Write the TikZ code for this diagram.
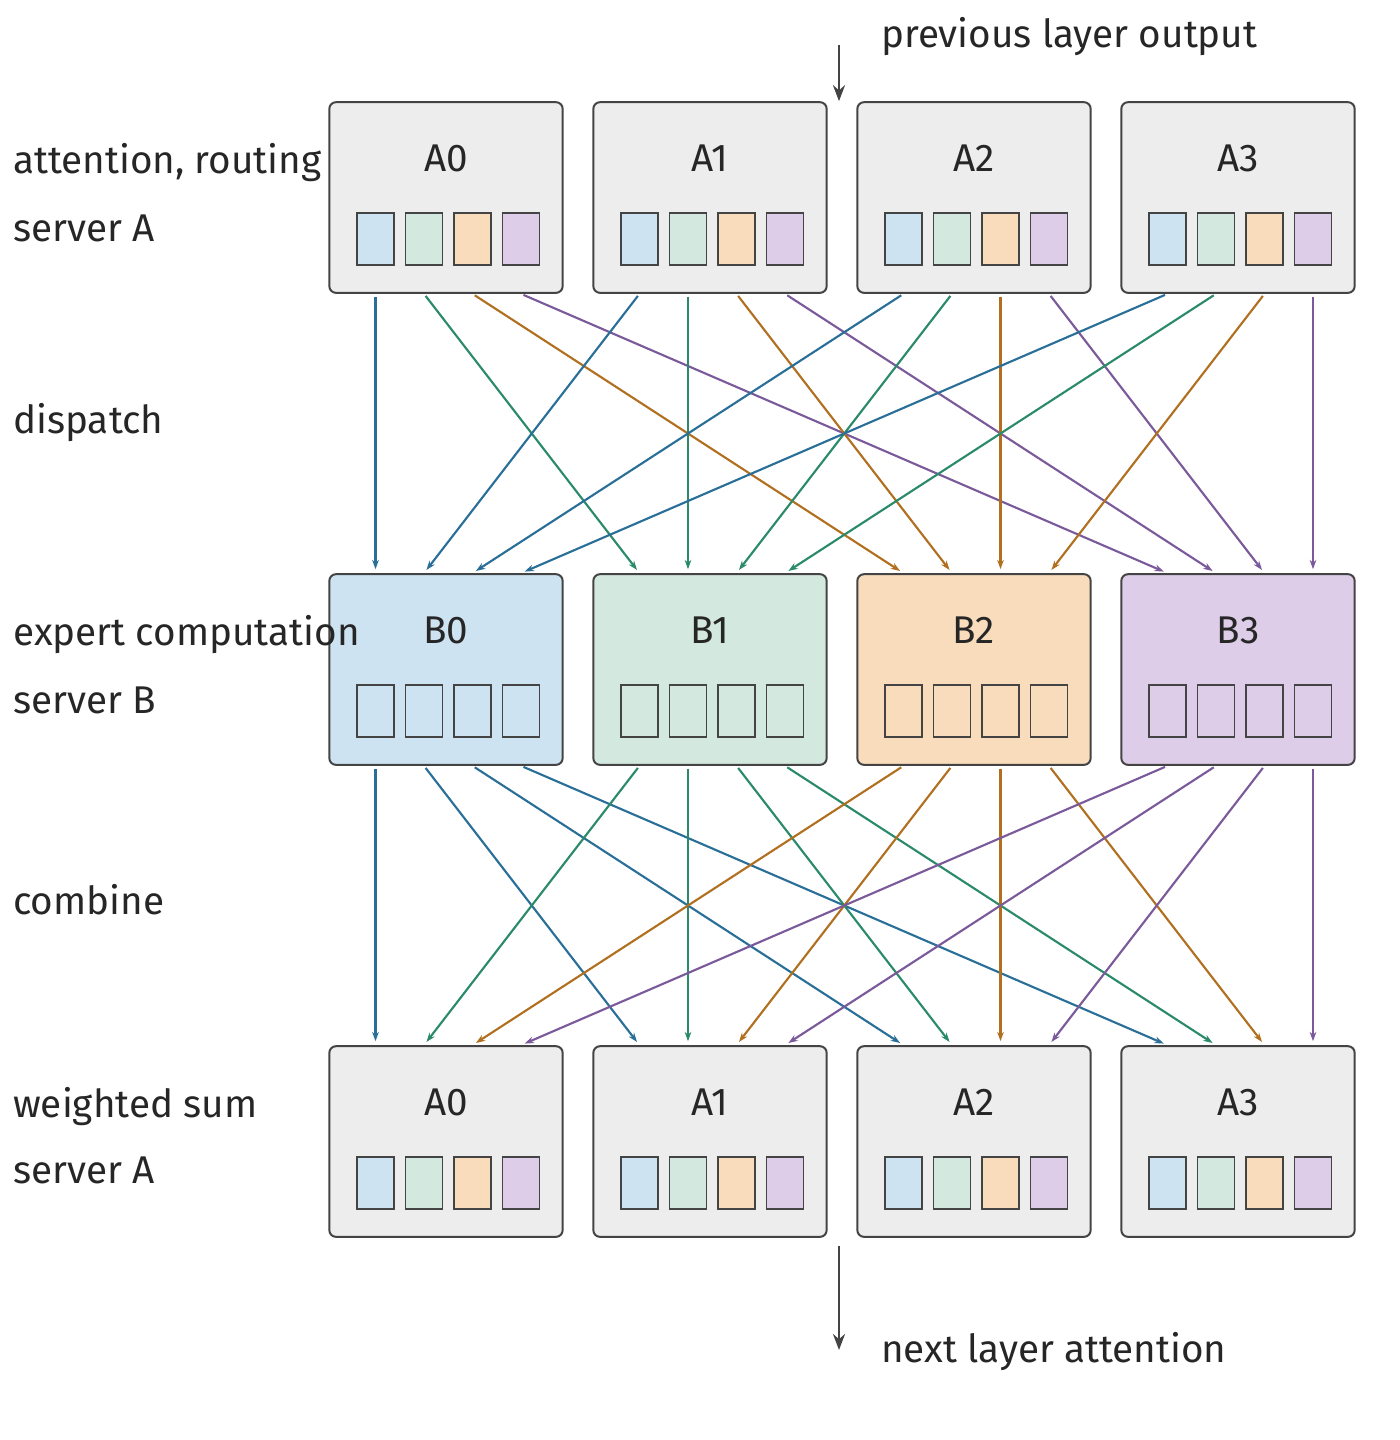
\documentclass[tikz,border=0pt]{standalone}
\usepackage{fontspec}
\setmainfont{Fira Sans}
\usetikzlibrary{arrows.meta}
\definecolor{f0}{HTML}{CDE3F2}
\definecolor{f1}{HTML}{D3E8DE}
\definecolor{f2}{HTML}{F8DCBC}
\definecolor{f3}{HTML}{DDCDE8}
\definecolor{l0}{HTML}{2A6F97}
\definecolor{l1}{HTML}{2A8A6A}
\definecolor{l2}{HTML}{B07020}
\definecolor{l3}{HTML}{7A5A9A}
\definecolor{edge}{HTML}{444444}
\tikzset{
  server/.style={draw=edge,line width=1.5pt,rounded corners=5pt,minimum width=175pt,minimum height=143pt},
  slot/.style={draw=edge,line width=1.2pt,minimum width=28pt,minimum height=39pt,inner sep=0pt},
  flow/.style={line width=1.6pt,-{Stealth[length=7pt,width=5pt]}},
  title/.style={font=\fontsize{29}{34}\selectfont,text=black!85},
  label/.style={font=\fontsize{29}{34}\selectfont,text=black!85,anchor=west,inner sep=0pt}
}
\begin{document}
\begin{tikzpicture}[x=0.75pt,y=-0.75pt]
  \useasboundingbox (0,0) rectangle (1400,1440);
  % boxes
  \foreach \k in {0,1,2,3} {
    \pgfmathsetmacro\bx{446+264*\k}
    \node[server,fill=black!7] (a\k) at (\bx,197.5) {};
    \node[server,fill=f\k] (b\k) at (\bx,669.5) {};
    \node[server,fill=black!7] (c\k) at (\bx,1141.5) {};
    \node[title] at (\bx,158) {A\k};
    \node[title] at (\bx,630) {B\k};
    \node[title] at (\bx,1102) {A\k};
    \foreach \i in {0,1,2,3} {
      \pgfmathsetmacro\sx{\bx-70.5+48.5*\i}
      \node[slot,fill=f\i] (a\k s\i) at (\sx,239) {};
      \node[slot,fill=f\k] (b\k s\i) at (\sx,711) {};
      \node[slot,fill=f\i] (c\k s\i) at (\sx,1183) {};
    }
  }
  % dispatch and combine
  \foreach \k in {0,1,2,3} {
    \foreach \i in {0,1,2,3} {
      \draw[flow,draw=l\i,fill=l\i,shorten <=2pt,shorten >=3pt] (a\k s\i |- a\k.south) -- (b\i s\k |- b\i.north);
      \draw[flow,draw=l\k,fill=l\k,shorten <=2pt,shorten >=3pt] (b\k s\i |- b\k.south) -- (c\i s\k |- c\i.north);
    }
  }
  % in and out
  \coordinate (in) at (839,45);
  \coordinate (out) at (839,1350);
  \draw[line width=2.2pt,draw=edge,-{Stealth[length=12pt,width=9pt]}] (in) -- (in |- a0.north);
  \draw[line width=2.2pt,draw=edge,-{Stealth[length=12pt,width=9pt]}] (c1.south -| out) ++(0,8) -- (out);
  \node[label] (prev) at (881,37) {previous layer output};
  \node[label] (next) at (881,1352) {next layer attention};
  % row labels
  \node[label] at (13,163) {attention, routing};
  \node[label] at (13,228) {server A};
  \node[label] at (13,423) {dispatch};
  \node[label] at (13,635) {expert computation};
  \node[label] at (13,700) {server B};
  \node[label] at (13,900) {combine};
  \node[label] at (13,1107) {weighted sum};
  \node[label] at (13,1170) {server A};
\end{tikzpicture}
\end{document}
